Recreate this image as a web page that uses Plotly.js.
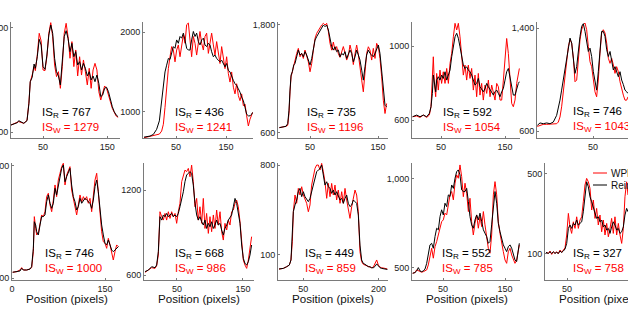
<!DOCTYPE html>
<html><head><meta charset="utf-8">
<script src="https://cdn.plot.ly/plotly-3.0.1.min.js"></script>
<style>html,body{margin:0;padding:0;background:#fff;overflow:hidden}#chart{width:628px;height:312px}</style>
</head><body><div id="chart"></div>
<script>
// ---------------- DATA ----------------
const pos1 = [0,10,12,20,25,28,30,33,36,38,41,44,47,50,53,56,59,62,65,68,71,74,77,80,83,86,89,92,95,98,101,104,107,110,113,116,119,122,125,128,131,134,137,140,143,146,149,152,155,158,161,164,167];
const black1 = [654,672,687,667,687,820,987,1020,1123,1090,1179,1313,1269,1103,1082,1192,1346,1423,1359,1167,1064,1031,962,1154,1333,1379,1320,1218,1282,1179,1218,1115,1141,1077,1128,1090,1031,1064,1000,1031,987,1038,974,872,885,936,944,910,846,795,756,731,718];
const red1 = [654,672,680,667,690,830,985,1038,1103,1072,1192,1359,1300,1077,1072,1179,1359,1441,1333,1115,1026,1064,936,1103,1359,1436,1333,1167,1295,1103,1231,1031,1179,1038,1154,1064,962,1090,936,1077,1128,1077,910,846,910,954,936,872,833,782,749,723,713];

const pos2 = [-14,-2,4.7,11.3,16.7,21.3,24.7,28,31.3,34.7,38,41.3,44.7,48,51.3,54.7,58,61.3,64.7,68,71.3,74.7,78,81.3,84.7,88,91.3,94.7,98,101.3,104.7,108,111.3,114.7,118,121.3,124.7,128,131.3,134.7,138,141.3,144.7,148,151.3,154.7,158,161.3,164.7,168,171.3,174.7,178,181.3,184.7,188,191.3,194.7,198,201.3,203.3];
const black2 = [682,695,716,780,886,1140,1394,1500,1585,1669,1657,1733,1818,1797,1902,1860,1945,1924,1987,1902,1797,1775,1775,1902,2008,1945,1987,1881,1839,1902,1924,1839,1818,1860,1839,1754,1691,1712,1669,1648,1627,1648,1606,1564,1606,1521,1500,1436,1394,1352,1331,1288,1246,1182,1140,1055,970,949,949,970,992];
const red2 = [674,690,695,705,720,758,843,1055,1331,1542,1691,1818,1775,1627,1775,1839,1691,1818,1966,1860,2093,2114,1902,1691,1945,1860,1712,1902,2008,1860,1775,1945,1987,1733,1860,1987,1839,1712,1881,1733,1606,1818,1669,1542,1691,1479,1373,1500,1309,1225,1352,1203,1140,1225,1076,1097,949,822,907,970,992];

const pos3 = [4.9,10.8,14.7,17.2,19.1,20.6,22.1,24,26,27.9,30.4,32.8,35.3,37.7,40.2,42.6,45.1,47.5,50,52.5,54.9,57.4,59.8,62.3,64.7,67.2,69.6,72.1,74.5,77,79.4,81.9,84.3,86.8,89.2,91.7,94.1,96.6,99,101.5,103.9,106.4,108.8,111.3,113.7,116.2,118.6,121.1,123.5,126,128.4,130.9,133.3,135.8,138.2,140.7,143.1,145.6,148,150.5,152.9,155.4,157.8,160.3,162.7];
const black3 = [659,667,674,704,853,1076,1243,1280,1354,1373,1447,1521,1466,1484,1447,1503,1466,1410,1354,1428,1521,1633,1670,1707,1744,1763,1800,1781,1800,1744,1633,1558,1521,1558,1503,1521,1447,1484,1466,1503,1428,1466,1521,1484,1391,1447,1521,1466,1410,1298,1187,1336,1466,1521,1484,1466,1447,1484,1540,1577,1484,1298,1038,908,890];
const red3 = [659,667,674,685,816,1057,1224,1280,1354,1391,1484,1540,1447,1484,1428,1521,1466,1391,1280,1373,1521,1652,1707,1744,1781,1800,1818,1800,1818,1726,1596,1520,1610,1520,1560,1480,1440,1500,1560,1490,1410,1460,1577,1500,1360,1480,1577,1470,1354,1187,1057,1243,1484,1558,1521,1410,1540,1428,1596,1558,1428,1224,964,816,927];

const pos4 = [5.7,12,17.2,22.4,27.6,31.8,34.4,36.5,38,39.6,41.7,43.2,45.8,48.4,51,53.6,56.3,58.9,61.5,64.1,66.7,69.3,71.9,74.5,77.1,79.7,82.3,84.9,87.5,90.1,92.7,95.3,97.9,100.5,103.1,105.7,108.3,110.9,113.5,116.1,118.8,121.4,124,126.6,129.2,131.8,134.4,137,139.6,142.2,144.8,147.4,150,152.6,155.2,157.8,160.4,163,165.6,168.2,170.8,172.4];
const black4 = [618,627,618,627,618,636,672,744,843,798,753,816,834,816,843,825,861,816,843,870,942,996,1050,1069,1042,996,933,897,879,888,870,861,843,816,789,798,825,780,762,753,771,798,780,762,744,735,753,762,744,726,753,771,816,861,879,834,771,735,735,771,798,807];
const red4 = [618,622,614,627,614,627,672,852,942,798,726,852,762,870,798,861,798,879,798,906,960,1050,1123,1087,1123,1050,960,843,897,816,897,825,879,762,843,726,852,735,798,708,789,744,816,726,789,753,708,798,780,708,708,816,942,1041,960,798,690,672,708,798,861,879];

const pos5 = [-37,-32.8,-27.6,-22.4,-17.2,-12,-6.8,-4.2,-1.6,1,3.6,6.3,8.9,11.5,14.1,16.7,19.3,21.9,24.5,27.1,29.7,32.3,34.9,37.5,40.1,42.7,45.3,47.9,50.5,53.1,55.7,58.3,60.9,63.5,66.1,68.8,71.4,74,76.6,79.2,81.8,84.4,87,89.6,92.2,94.8,97.4,100,102.6,104.7];
const black5 = [644,663,657,663,657,670,722,775,840,918,996,1100,1179,1231,1322,1283,1139,1048,1100,1231,1335,1413,1434,1374,1283,1218,1244,1179,1061,983,918,1061,1231,1374,1374,1335,1231,1179,1218,1139,1074,1100,1061,1022,1061,996,961,918,905,892];
const red5 = [636,644,652,652,652,652,657,670,709,788,918,1022,1139,1257,1309,1283,1165,983,996,1165,1309,1387,1426,1439,1387,1257,1139,1100,996,905,866,996,1205,1361,1387,1361,1283,1165,1126,1165,1113,1048,1100,1061,983,918,879,840,840,866];

const pos6 = [1.1,7.5,12.9,15.6,18.3,23.7,29,31.7,34.4,36,38.2,39.8,42.5,45.2,47.8,50.5,53.2,55.9,58.6,61.3,64,66.7,69.4,72,74.7,77.4,80.1,82.8,85.5,88.2,90.9,93.5,96.2,98.9,101.6,104.3,107,109.7,112.4,115.1,117.7,120.4,123.1,125.8,128.5,131.2,133.9,136.6,139.2,141.9,144.6,147.3,150,152.7,155.4,158.1,160.8,163.4,166.1,168.8,171.5];
const black6 = [643,647,652,671,659,659,666,683,813,1002,979,931,908,979,1038,1038,1050,1144,1192,1133,1097,1133,1239,1192,1263,1310,1381,1405,1286,1322,1357,1381,1263,1180,1144,1085,1109,1168,1133,1156,1168,1156,1144,1133,1097,1156,1251,1298,1215,1073,979,908,849,837,872,837,801,789,801,813,825];
const red6 = [643,647,659,676,659,659,666,676,789,1038,955,908,920,991,1050,1038,1073,1180,1204,1121,1073,1156,1263,1180,1298,1346,1393,1417,1263,1334,1369,1393,1227,1168,1097,1050,1121,1192,1144,1180,1156,1180,1133,1168,1073,1192,1298,1346,1215,1073,931,860,849,813,884,837,778,730,789,837,825];

const pos7 = [1.5,6.6,11.6,16.7,19.2,21.7,24.2,26.8,29.3,31.8,34.3,36.9,39.4,41.9,44.4,47,49.5,52,54.5,57.1,59.6,62.1,64.6,67.2,69.7,72.2,74.7,77.3,79.8,82.3,84.8,87.4,89.9,92.4,94.9,97.5,100,102.5,105.1,107.6,110.1,112.6,115.2,117.7,120.2,122.7,125.3,127.8,130.3,132.8,135.4,137.9,140.4,142.9,145.5,148,150.5,153,155.6,158.1,160.6,163.1];
const black7 = [624,635,659,652,671,765,1012,988,1024,1012,1035,1012,1024,1035,1012,1024,1012,1035,1082,1129,1188,1259,1306,1318,1330,1318,1235,1106,1024,988,1012,976,953,988,929,965,941,976,929,953,988,953,965,918,882,929,953,988,1012,1024,1082,1141,1106,1047,965,812,718,682,671,694,741,812];
const red7 = [619,635,652,647,666,741,1047,1012,988,1035,988,1047,1000,1047,1012,1035,965,1047,1106,1259,1306,1341,1330,1353,1294,1376,1259,1082,1141,988,1082,965,1141,929,1035,894,1012,906,1024,929,1059,953,1047,906,847,965,918,988,953,1047,1059,1106,1129,1082,976,835,706,671,647,706,812,871];

const pos8 = [2,10.6,17.2,22.5,25.8,28.5,30.5,33.8,37.1,40.4,43.7,47.1,50.4,53.7,57,60.3,63.6,66.9,70.2,73.6,76.9,80.2,83.5,86.8,90.1,93.4,96.8,100.1,103.4,106.7,110,113.3,116.6,119.9,123.3,126.6,129.9,133.2,136.5,139.8,143.1,146.5,149.8,153.1,156.4,159.7,163,166.3,169.6,173,176.3,179.6,182.9,186.2,189.5,192.8,196.2,199.5,202.8,206.1,209.4,212.7,217.4];
const black8 = [-15,-10,3,16,56,225,434,487,526,591,617,552,591,552,526,513,539,591,656,709,748,761,774,800,735,643,669,630,617,578,604,565,591,565,526,539,500,539,565,500,474,487,526,513,500,408,173,56,29,22,11,3,3,-5,-5,5,25,8,-5,-10,-10,-15,-18];
const red8 = [-15,-10,3,16,56,199,434,565,500,617,565,630,565,539,500,434,487,643,709,774,800,800,761,813,748,669,539,656,552,656,565,643,526,604,500,591,500,617,526,434,382,474,539,604,565,434,121,43,22,16,11,3,3,-5,0,29,56,16,0,-5,-10,-10,-15];

const pos9 = [1.1,4.8,7.5,10.2,12.9,15.6,18.3,21,23.7,26.3,29,31.7,34.4,37.1,39.8,42.5,45.2,47.8,50.5,53.2,55.9,58.6,61.3,64,66.7,69.4,72,74.7,77.4,80.1,82.8,85.5,88.2,90.9,93.5,96.2,98.9,101.6,104.3,107,109.7,112.4,115.1,117.7,120.4,123.1,125.8,128.5,131.2,133.9,136.6,139.2,141.9,144.6,147.3,150,152.7,155.4,158.1,160.8,163.4,166.1,168.8,171.5,173.1];
const black9 = [468,472,481,500,481,477,481,492,524,571,628,637,609,675,722,713,788,826,797,863,844,910,901,966,947,1004,1041,1051,1023,938,929,929,947,872,788,741,722,769,797,769,807,760,713,694,675,637,647,741,853,929,863,750,703,665,628,609,590,618,628,609,571,543,534,590,637];
const red9 = [468,472,487,481,477,474,477,481,487,515,571,609,553,618,647,684,722,759,769,807,797,853,910,929,882,976,1023,1004,1079,1013,900,976,919,816,891,759,684,750,797,722,788,731,816,741,684,609,581,684,910,985,910,759,694,628,590,543,524,590,609,571,543,524,543,590,628];

const pos10 = [16.1,19.9,22.6,25.3,28,30.6,33.3,36,38.7,41.4,44.1,46.8,49.5,52.2,54.8,57.5,60.2,62.9,65.6,68.3,71,73.7,76.3,79,81.7,84.4,87.1,89.8,92.5,95.2,97.8,100.5,103.2,105.9,108.6,111.3,114,116.7,119.4,122,124.7,127.4,130.1,132.8,135.5,138.2,140.9,143.5,146.2,148.4];
const black10 = [105,100,108,100,108,100,105,100,112,105,112,122,150,225,242,225,250,242,267,242,250,258,308,392,458,433,383,358,325,300,275,283,258,267,233,242,217,225,200,233,258,242,217,225,200,208,233,292,325,308];
const red10 = [105,100,112,95,108,100,108,98,117,105,117,128,192,300,233,200,258,225,283,225,267,283,358,442,475,458,425,317,367,275,325,242,292,208,267,192,250,183,225,275,200,283,192,250,192,150,225,383,458,392];

const isR = [767,436,735,592,746,746,668,449,552,327];
const isW = [1279,1241,1196,1054,1043,1000,986,859,785,758];
const yTickVals = [[600,1400],[1000,2000],[600,1800],[600,1000],[600,1400],[600,1400],[600,1200],[100,800],[500,1000],[100,500]];
const yTickText = [["600","1,400"],["1000","2000"],["600","1,800"],["600","1000"],["600","1,400"],["600","1,400"],["600","1200"],["100","800"],["500","1,000"],["100","500"]];
const xTickVals = [[50,150],[50,150],[50,150],[50,150],[50,150],[0,150],[50,150],[50,200],[50,150],[50,150]];
const seriesNames = ["WPF","Reinhard"];
const xTitle = "Position (pixels)";

// ---------------- LAYOUT (pixels) ----------------
const W = 628, H = 312;
const FONT = "Liberation Sans, Arial, sans-serif";
const RED = "#ff0000", BLACK = "#000000", AX = "#7a7a7a";
const boxes = [[11,120,22,138],[143,253,22,138],[278,388,22,138],[412,520,22,138],[537,628,22,138],
               [12,120,163,280],[144,254,163,280],[278,388,163,280],[412,520,163,280],[545,628,163,280]];
const xRanges = [[0,170],[-16,204],[2.9,164.7],[4.7,173.4],[-37.5,104.7],[0,174.2],[0,166.7],[0,218.7],[0,174.2],[14.5,148.4]];
const yRanges = [[554,1446],[671,2127],[544,1833],[503,1130],[546,1447],[588,1419],[565,1391],[-101,816],[430,1090],[-33,552]];
const isPos = [[40,113],[173,113],[305,113],[441,113],[571,112],[43,254],[173,254],[303,254],[440,254],[571,254]];

const positions = [pos1,pos2,pos3,pos4,pos5,pos6,pos7,pos8,pos9,pos10];
const blacks = [black1,black2,black3,black4,black5,black6,black7,black8,black9,black10];
const reds = [red1,red2,red3,red4,red5,red6,red7,red8,red9,red10];

const px = v => v / W, py = v => 1 - v / H;
const traces = [];
const layout = {
  width: W, height: H, autosize: false,
  margin: {l:0, r:0, t:0, b:0, pad:0},
  paper_bgcolor: "#fff", plot_bgcolor: "#fff",
  showlegend: false, font: {family: FONT, color: "#222"},
  annotations: [], shapes: []
};
for (let i = 0; i < 10; i++) {
  const s = i === 0 ? "" : String(i + 1);
  const b = boxes[i];
  traces.push({x: positions[i], y: reds[i], xaxis: "x"+s, yaxis: "y"+s, type: "scatter", mode: "lines",
               line: {color: RED, width: 1}, hoverinfo: "skip", name: seriesNames[0]});
  traces.push({x: positions[i], y: blacks[i], xaxis: "x"+s, yaxis: "y"+s, type: "scatter", mode: "lines",
               line: {color: BLACK, width: 1}, hoverinfo: "skip", name: seriesNames[1]});
  const common = {showline: true, linecolor: AX, linewidth: 1, ticks: "inside", ticklen: 2, tickcolor: AX,
                  showgrid: false, zeroline: false, fixedrange: true, tickmode: "array",
                  tickfont: {family: FONT, size: 9, color: "#222"}};
  layout["xaxis"+s] = Object.assign({}, common, {domain: [px(b[0]), px(b[1])], range: xRanges[i],
      anchor: "y"+s, tickvals: xTickVals[i], ticktext: xTickVals[i].map(String)});
  layout["yaxis"+s] = Object.assign({}, common, {domain: [py(b[3]), py(b[2])], range: yRanges[i],
      anchor: "x"+s, tickvals: yTickVals[i], ticktext: yTickText[i]});
  layout.annotations.push({xref: "paper", yref: "paper", x: px(isPos[i][0]), y: py(isPos[i][1]),
      xanchor: "left", yanchor: "middle", showarrow: false,
      text: "IS<sub>R</sub> = " + isR[i], font: {family: FONT, size: 11.5, color: BLACK}});
  layout.annotations.push({xref: "paper", yref: "paper", x: px(isPos[i][0]), y: py(isPos[i][1] + 15),
      xanchor: "left", yanchor: "middle", showarrow: false,
      text: "IS<sub>W</sub> = " + isW[i], font: {family: FONT, size: 11.5, color: RED}});
  if (i >= 5) {
    layout.annotations.push({xref: "paper", yref: "paper", x: px((b[0] + b[0] + 110) / 2), y: py(298),
      xanchor: "center", yanchor: "middle", showarrow: false, text: xTitle,
      font: {family: FONT, size: 11.6, color: "#111"}});
  }
}
// legend (drawn manually, partly cut off at right edge)
[[173, RED, seriesNames[0]], [185, BLACK, seriesNames[1]]].forEach(([yy, c, t]) => {
  layout.shapes.push({type: "line", xref: "paper", yref: "paper", x0: px(593), x1: px(607), y0: py(yy), y1: py(yy),
                      line: {color: c, width: 1}});
  layout.annotations.push({xref: "paper", yref: "paper", x: px(609), y: py(yy), xanchor: "left", yanchor: "middle",
                           showarrow: false, text: t, font: {family: FONT, size: 10, color: "#111"}});
});
Plotly.newPlot("chart", traces, layout, {staticPlot: true, displayModeBar: false});
</script></body></html>
